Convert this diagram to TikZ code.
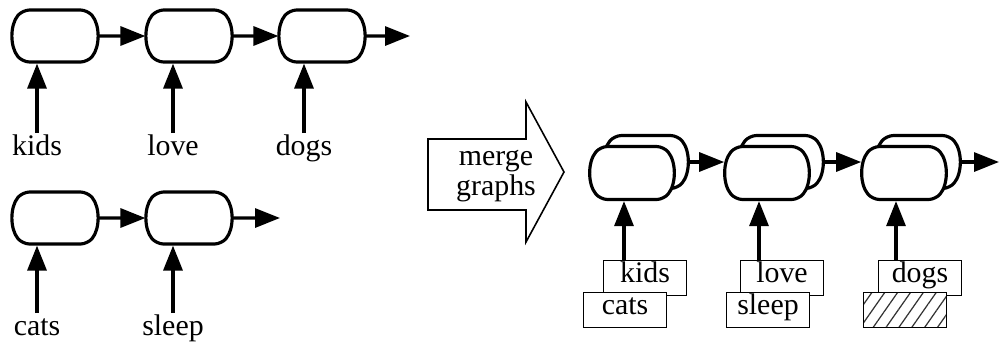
\documentclass[tikz,border=0pt]{standalone}
\usepackage{fontspec}
\setmainfont{Liberation Serif}
\usetikzlibrary{arrows.meta}
\usetikzlibrary{shapes.misc, patterns.meta}
\usetikzlibrary{math}

\tikzset{
  cell/.style={draw, line width=1.8pt, fill=white, rounded rectangle, rounded rectangle arc length=80, rounded corners=4pt, minimum width=1.68cm, minimum height=1.04cm, inner sep=0pt},
  mcell/.style={cell, minimum width=1.44cm, minimum height=1.06cm},
  flow/.style={-{Triangle[length=0.5cm,width=0.38cm]}, line width=1.8pt},
  word/.style={font=\fontsize{17}{16}\selectfont, text height=0.68em, text depth=0.2em, inner sep=0.19cm, anchor=base},
  wordbox/.style={word, anchor=center, draw, fill=white, line width=1.1pt, inner sep=0pt, minimum width=1.66cm, minimum height=0.7cm},
}

\begin{document}
\begin{tikzpicture}[x=0.02cm, y=-0.02cm]
\tikzmath{
\mx=-0.16;
}
\useasboundingbox (0,0) rectangle (1000,343);

\node[cell] (c1) at (55,36) {};
\node[cell] (c2) at (189,36) {};
\node[cell] (c3) at (322,36) {};
\coordinate (c4) at (410,36);
\draw[flow] (c1) -- (c2);
\draw[flow] (c2) -- (c3);
\draw[flow] (c3) -- (c4);

\node[word] (kids) at (37,155) {kids};
\node[word] (love) at (173,155) {love};
\node[word] (dogs) at (304,155) {dogs};
\draw[flow] (kids.north) -- (kids.north |- c1.south);
\draw[flow] (love.north) -- (love.north |- c2.south);
\draw[flow] (dogs.north) -- (dogs.north |- c3.south);

\node[cell] (d1) at (55,218) {};
\node[cell] (d2) at (189,218) {};
\coordinate (d3) at (280,218);
\draw[flow] (d1) -- (d2);
\draw[flow] (d2) -- (d3);

\node[word] (cats) at (37,335) {cats};
\node[word] (sleep) at (173,335) {sleep};
\draw[flow] (cats.north) -- (cats.north |- d1.south);
\draw[flow] (sleep.north) -- (sleep.north |- d2.south);

\draw[line width=0.9pt] (428,139) -- (526,139) -- (526,102) -- (564,172) -- (526,242) -- (526,210) -- (428,210) -- cycle;
\node[font=\fontsize{17}{17.5}\selectfont, align=center] (merge) at (496,176) {merge\\graphs};

\node[mcell] (b1) at (646,162) {};
\node[mcell] (f1) at (632,173) {};
\node[mcell] (b2) at (781,162) {};
\node[mcell] (f2) at (767,173) {};
\node[mcell] (b3) at (918,162) {};
\node[mcell] (f3) at (904,173) {};
\coordinate (b4) at (999,162);
\draw[flow] (b1.east) -- (b1.east -| f2.west);
\draw[flow] (b2.east) -- (b2.east -| f3.west);
\draw[flow] (b3.east) -- (b4);

\node[wordbox] (mkids) at (645,278) {kids};
\node[wordbox] (mlove) at (782,278) {love};
\node[wordbox] (mdogs) at (920,278) {dogs};
\node[wordbox] (mcats) at (625,310) {cats};
\node[wordbox] (msleep) at (768,310) {sleep};
\node[wordbox, preaction={fill=white}, pattern={Lines[angle=55,distance=6pt,line width=0.7pt]}, pattern color=black!80] (mnone) at (905,310) {};

\draw[flow] ([xshift=\mx cm]f1.south |- mkids.north) -- ([xshift=\mx cm]f1.south);
\draw[flow] ([xshift=\mx cm]f2.south |- mlove.north) -- ([xshift=\mx cm]f2.south);
\draw[flow] ([xshift=\mx cm]f3.south |- mdogs.north) -- ([xshift=\mx cm]f3.south);

\end{tikzpicture}
\end{document}
